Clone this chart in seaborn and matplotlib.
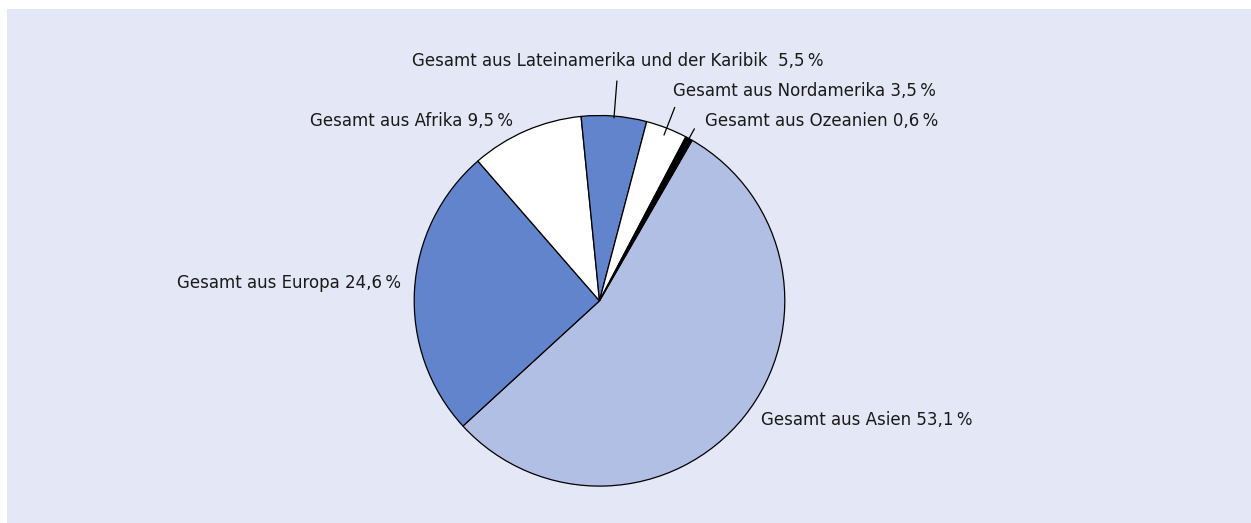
import matplotlib
matplotlib.use("Agg")
import matplotlib.pyplot as plt
import numpy as np
import seaborn as sns

# Share of people by region of origin, listed clockwise starting with Asia
regions = ["Asien", "Europa", "Afrika", "Lateinamerika und der Karibik", "Nordamerika", "Ozeanien"]
shares = [53.1, 24.6, 9.5, 5.5, 3.5, 0.6]

sns.set_theme(style="white")
plt.rcParams["font.family"] = ["DejaVu Sans"]

BG = "#e4e7f5"
BLUE = "#6184cc"
LIGHT = "#b2bfe5"
colors = sns.color_palette([LIGHT, BLUE, "white", BLUE, "white", "black"])

W, H = 1251, 523
fig = plt.figure(figsize=(W / 100, H / 100), dpi=100, facecolor="white")
# panel: pixel-based data coordinates (y measured upwards from the bottom edge)
left, top = 7, 9
ax = fig.add_axes([left / W, 0, (W - left) / W, (H - top) / H])
ax.set_facecolor(BG)

cx, cy_top, R = 599.5, 300.8, 185.3
cy = H - cy_top

wedges, _ = ax.pie(
    shares,
    colors=colors,
    startangle=60,
    counterclock=False,
    center=(cx, cy),
    radius=R,
    frame=True,
    wedgeprops=dict(edgecolor="black", linewidth=0.9),
)
ax.set_xlim(left, W)
ax.set_ylim(0, H - top)
ax.set_aspect("equal")
ax.set_xticks([])
ax.set_yticks([])
for s in ax.spines.values():
    s.set_visible(False)


def fmt(v):
    return f"{v:.1f}".replace(".", ",") + "\u2009%"


# label anchors: (x, baseline y from top, horizontal alignment, gap before value)
anchors = {
    "Asien": (761, 425, "left", " "),
    "Europa": (401, 288, "right", " "),
    "Afrika": (512.5, 126, "right", " "),
    "Lateinamerika und der Karibik": (412.5, 66, "left", "  "),
    "Nordamerika": (673, 96, "left", " "),
    "Ozeanien": (705, 126, "left", " "),
}
for name, val in zip(regions, shares):
    x, yb, ha, gap = anchors[name]
    ax.text(x, H - yb, f"Gesamt aus {name}{gap}{fmt(val)}", ha=ha, va="baseline",
            fontsize=12, color="#1a1a1a")

# leader lines for the narrow top slices: (inner radius factor, outer radius factor)
leaders = {
    "Lateinamerika und der Karibik": (0.99, 1.19),
    "Nordamerika": (0.96, 1.12),
    "Ozeanien": (0.95, 1.06),
}
for w, name in zip(wedges, regions):
    if name not in leaders:
        continue
    r_in, r_out = leaders[name]
    mid = np.deg2rad((w.theta1 + w.theta2) / 2)
    ax.plot([cx + r_in * R * np.cos(mid), cx + r_out * R * np.cos(mid)],
            [cy + r_in * R * np.sin(mid), cy + r_out * R * np.sin(mid)],
            color="black", linewidth=0.9)

fig.savefig("out.png", dpi=100, facecolor="white")
